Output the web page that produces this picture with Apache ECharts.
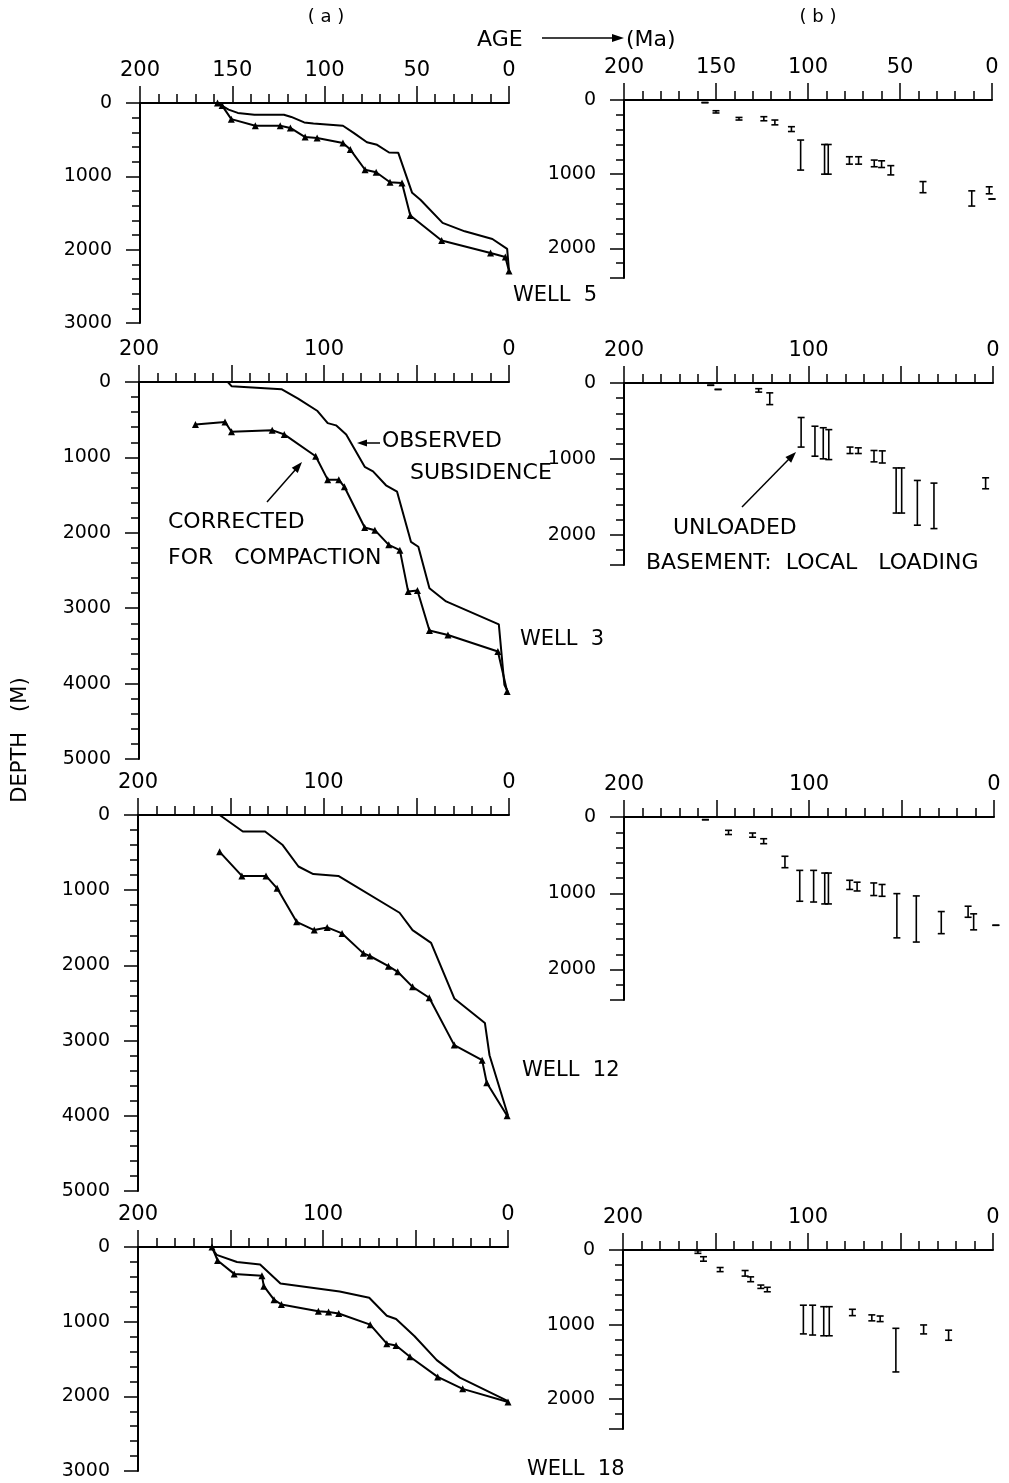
<!DOCTYPE html>
<html>
<head>
<meta charset="utf-8">
<script src="https://cdn.jsdelivr.net/npm/echarts@6/dist/echarts.min.js"></script>
<style>
html,body{margin:0;padding:0;background:#fff;}
#chart{width:1009px;height:1483px;}
</style>
</head>
<body>
<div id="chart"></div>
<script>
// ---------- DATA: [age (Ma), depth (m)] ----------
const well5Observed = [[158,0],[152,90],[147,135],[138,160],[122,160],[118,190],[111,265],[106,280],[90,310],[84,410],[77,535],[71.5,570],[65,675],[60,680],[52.5,1225],[48,1320],[36,1635],[24,1750],[9,1855],[1,1990],[0,2290]];
const well5Corrected = [[158,0],[155.5,35],[150.5,220],[137.5,310],[124,310],[118.5,340],[110.5,465],[104,478],[90,545],[86,635],[78,910],[72,945],[64.5,1080],[58,1090],[53.5,1535],[36.5,1875],[10,2045],[2,2100],[0,2290]];
const well3Observed = [[152,0],[150,55],[123,95],[114,220],[103.5,385],[98,545],[93.5,575],[88,695],[78,1125],[73.5,1185],[66.5,1370],[60.5,1455],[53,2120],[49,2185],[43,2735],[34,2910],[5.5,3215],[2.5,4015],[0.5,4115]];
const well3Corrected = [[169.5,565],[153.5,530],[150,660],[128,640],[121.5,695],[104.5,985],[98,1295],[92,1295],[89,1390],[78,1930],[72.5,1965],[65,2160],[59,2230],[54.5,2780],[49.5,2765],[43,3295],[33,3355],[6,3575],[1,4105]];
const well12Observed = [[156,0],[143.5,220],[131.5,220],[122,400],[113.5,685],[105.5,785],[92,810],[59,1300],[52,1530],[42,1700],[29.5,2440],[13,2765],[10.5,3195],[0.5,4000]];
const well12Corrected = [[156,490],[144,810],[131,810],[125,975],[114.5,1420],[105,1530],[98,1495],[90,1575],[78.5,1840],[75,1875],[65,2010],[60,2085],[52,2285],[43,2430],[29.5,3060],[14.5,3260],[12,3560],[1,4000]];
const well18Observed = [[160.5,0],[157.5,105],[146.5,200],[134,235],[123,490],[91,595],[75,680],[65.5,920],[60.5,965],[50.5,1195],[38.5,1515],[26,1750],[0,2065]];
const well18Corrected = [[160,0],[157,180],[148,360],[133,385],[132,525],[126.5,705],[122.5,770],[102.5,860],[97,870],[91.5,890],[74.5,1040],[65.5,1295],[60.5,1320],[53,1470],[38,1740],[24.5,1900],[0,2075]];

// ---------- DATA: unloaded basement ranges [age, top depth, bottom depth] ----------
const well5Basement = [[156,35,35],[150,145,175],[137.5,235,270],[124,225,280],[118,270,335],[109,360,425],[104,540,945],[91,600,1000],[89,600,1000],[77.5,765,865],[72.5,765,865],[64,810,900],[60,820,910],[55,885,1010],[37.5,1100,1250],[11,1225,1430],[1.5,1170,1265],[0,1335,1335]];
const well3Basement = [[153,30,30],[149,85,85],[127,75,120],[121,130,285],[104,455,845],[96.5,570,965],[92,590,1000],[89,615,1010],[77.5,845,930],[73,855,930],[64.5,890,1040],[60,895,1055],[52.5,1120,1715],[49.5,1120,1715],[41,1285,1875],[32,1320,1920],[4,1250,1395]];
const well12Basement = [[156,35,35],[143.5,175,230],[130.5,210,265],[124.5,285,350],[113,515,665],[105,700,1105],[97.5,700,1115],[91.5,735,1140],[89.5,735,1140],[78,830,950],[74,855,970],[65,865,1030],[60.5,885,1040],[52.5,1005,1585],[42,1035,1640],[28.5,1240,1530],[14,1170,1315],[11,1270,1480],[-1,1420,1420]];
const well18Basement = [[159.5,10,45],[156.5,90,150],[147.5,235,290],[134,275,350],[131,360,425],[125.5,470,515],[122,500,560],[102.5,740,1125],[97.5,740,1140],[91.5,760,1150],[88.5,760,1150],[76,795,880],[65.5,870,950],[61,885,960],[52.5,1050,1635],[37.5,1005,1125],[24,1075,1210]];

// ---------- AXIS SETTINGS ----------
const ageMin = 0, ageMax = 200;
const depthMaxLeft = [3000, 5000, 5000, 3000];
const depthMaxRight = [2400, 2400, 2400, 2400];
const wellNames = ['WELL  5', 'WELL  3', 'WELL  12', 'WELL  18'];

// ---------- LAYOUT ----------
const gridsLeft = [
  {left:140, top:103, width:369, height:220},
  {left:139, top:382, width:370, height:377},
  {left:138, top:815, width:371, height:376},
  {left:138, top:1247, width:370, height:224}
];
const gridsRight = [
  {left:624, top:100, width:368, height:178},
  {left:624, top:383, width:369, height:182},
  {left:624, top:817, width:370, height:183},
  {left:623, top:1250, width:370, height:179}
];

const FONT = 'DejaVu Sans';
const grids = [], xAxes = [], yAxes = [], series = [];

function addPanel(grid, yMax, labelStep) {
  const gi = grids.length;
  grids.push(grid);
  xAxes.push({
    gridIndex: gi, type:'value', position:'top', min:ageMin, max:ageMax, inverse:true, interval:10,
    axisLine:{show:true, onZero:false, lineStyle:{color:'#000', width:2}},
    axisTick:{show:true, inside:false, length:9, lineStyle:{color:'#000', width:1.5}},
    axisLabel:{show:true, margin:22, color:'#000', fontFamily:FONT, fontSize:21,
      formatter: v => (v % labelStep === 0 ? String(v) : '')},
    splitLine:{show:false}
  });
  xAxes.push({
    gridIndex: gi, type:'value', position:'top', min:ageMin, max:ageMax, inverse:true, interval:50,
    axisLine:{show:false, onZero:false}, axisLabel:{show:false}, splitLine:{show:false},
    axisTick:{show:true, inside:false, length:17, lineStyle:{color:'#000', width:1.5}}
  });
  yAxes.push({
    gridIndex: gi, type:'value', position:'left', min:0, max:yMax, inverse:true, interval:200,
    axisLine:{show:true, onZero:false, lineStyle:{color:'#000', width:2}},
    axisTick:{show:true, inside:false, length:8, lineStyle:{color:'#000', width:1.5}},
    axisLabel:{show:true, margin:28, color:'#000', fontFamily:FONT, fontSize:19,
      formatter: v => (v % 1000 === 0 ? String(v) : '')},
    splitLine:{show:false}
  });
  yAxes.push({
    gridIndex: gi, type:'value', position:'left', min:0, max:yMax, inverse:true, interval:1000,
    axisLine:{show:false, onZero:false}, axisLabel:{show:false}, splitLine:{show:false},
    axisTick:{show:true, inside:false, length:14, lineStyle:{color:'#000', width:1.5}}
  });
  return 2 * gi;
}

function addCurves(axisIdx, observed, corrected) {
  series.push({
    type:'line', xAxisIndex:axisIdx, yAxisIndex:axisIdx, data:observed,
    symbol:'none', lineStyle:{color:'#000', width:2}, silent:true
  });
  series.push({
    type:'line', xAxisIndex:axisIdx, yAxisIndex:axisIdx, data:corrected,
    symbol:'triangle', symbolSize:7, showAllSymbol:true,
    itemStyle:{color:'#000'}, lineStyle:{color:'#000', width:2}, silent:true
  });
}

function renderRange(params, api) {
  const a = api.value(0), t = api.value(1), b = api.value(2);
  const p1 = api.coord([a, t]);
  const p2 = api.coord([a, b]);
  const cap = 3.5;
  const st = {stroke:'#000', lineWidth:1.6};
  return {type:'group', children:[
    {type:'line', shape:{x1:p1[0], y1:p1[1], x2:p2[0], y2:p2[1]}, style:st},
    {type:'line', shape:{x1:p1[0]-cap, y1:p1[1], x2:p1[0]+cap, y2:p1[1]}, style:st},
    {type:'line', shape:{x1:p2[0]-cap, y1:p2[1], x2:p2[0]+cap, y2:p2[1]}, style:st}
  ]};
}

function addRanges(axisIdx, data) {
  series.push({
    type:'custom', xAxisIndex:axisIdx, yAxisIndex:axisIdx, data:data,
    encode:{x:0, y:[1,2]}, renderItem:renderRange, clip:false, silent:true
  });
}

const leftObs = [well5Observed, well3Observed, well12Observed, well18Observed];
const leftCor = [well5Corrected, well3Corrected, well12Corrected, well18Corrected];
const rightRanges = [well5Basement, well3Basement, well12Basement, well18Basement];

for (let i = 0; i < 4; i++) {
  const ax = addPanel(gridsLeft[i], depthMaxLeft[i], i === 0 ? 50 : 100);
  addCurves(ax, leftObs[i], leftCor[i]);
}
for (let i = 0; i < 4; i++) {
  const ax = addPanel(gridsRight[i], depthMaxRight[i], i === 0 ? 50 : 100);
  addRanges(ax, rightRanges[i]);
}

// ---------- ANNOTATIONS ----------
function txt(text, x, y, size, align) {
  return {type:'text', x:x, y:y, silent:true, style:{
    text:text, x:0, y:0, fill:'#000', font: size + 'px "' + FONT + '"',
    align: align || 'left', verticalAlign:'middle',
    textAlign: align || 'left', textVerticalAlign:'middle'}};
}
function seg(x1, y1, x2, y2, w) {
  return {type:'line', silent:true, shape:{x1, y1, x2, y2}, style:{stroke:'#000', lineWidth:w || 1.5}};
}
function arrowHead(tx, ty, fx, fy, len, half) {
  const dx = tx - fx, dy = ty - fy, L = Math.hypot(dx, dy);
  const ux = dx / L, uy = dy / L;
  const bx = tx - ux * len, by = ty - uy * len;
  return {type:'polygon', silent:true, shape:{points:[[tx, ty], [bx - uy * half, by + ux * half], [bx + uy * half, by - ux * half]]}, style:{fill:'#000'}};
}

const wellLabelPos = [[513, 296], [520, 640], [522, 1071], [527, 1470]];
const graphics = [
  txt('( a )', 326, 17, 18, 'center'),
  txt('( b )', 818, 17, 18, 'center'),
  txt('AGE', 477, 40, 22, 'left'),
  seg(542, 38, 614, 38, 1.5),
  arrowHead(624, 38, 542, 38, 12, 4),
  txt('(Ma)', 626, 40, 22, 'left'),
  txt('OBSERVED', 382, 441, 22, 'left'),
  txt('SUBSIDENCE', 410, 473, 22, 'left'),
  seg(380, 443, 366, 443, 1.5),
  arrowHead(357, 443, 380, 443, 10, 3.5),
  txt('CORRECTED', 168, 522, 22, 'left'),
  txt('FOR   COMPACTION', 168, 558, 22, 'left'),
  seg(267, 502, 296, 469, 1.5),
  arrowHead(302, 462, 267, 502, 11, 4),
  txt('UNLOADED', 673, 528, 22, 'left'),
  txt('BASEMENT:  LOCAL   LOADING', 646, 563, 22, 'left'),
  seg(742, 507, 789, 459, 1.5),
  arrowHead(796, 452, 742, 507, 11, 4),
  {type:'text', x:21, y:740, rotation:Math.PI/2, silent:true, style:{
    text:'DEPTH   (M)', x:0, y:0, fill:'#000', font:'21px "' + FONT + '"',
    align:'center', verticalAlign:'middle', textAlign:'center', textVerticalAlign:'middle'}}
];
for (let i = 0; i < 4; i++) {
  graphics.push(txt(wellNames[i], wellLabelPos[i][0], wellLabelPos[i][1], 21, 'left'));
}

const chart = echarts.init(document.getElementById('chart'), null, {renderer:'canvas'});
chart.setOption({
  backgroundColor:'#fff',
  animation:false,
  grid:grids,
  xAxis:xAxes,
  yAxis:yAxes,
  series:series,
  graphic:{elements:graphics}
});
</script>
</body>
</html>
